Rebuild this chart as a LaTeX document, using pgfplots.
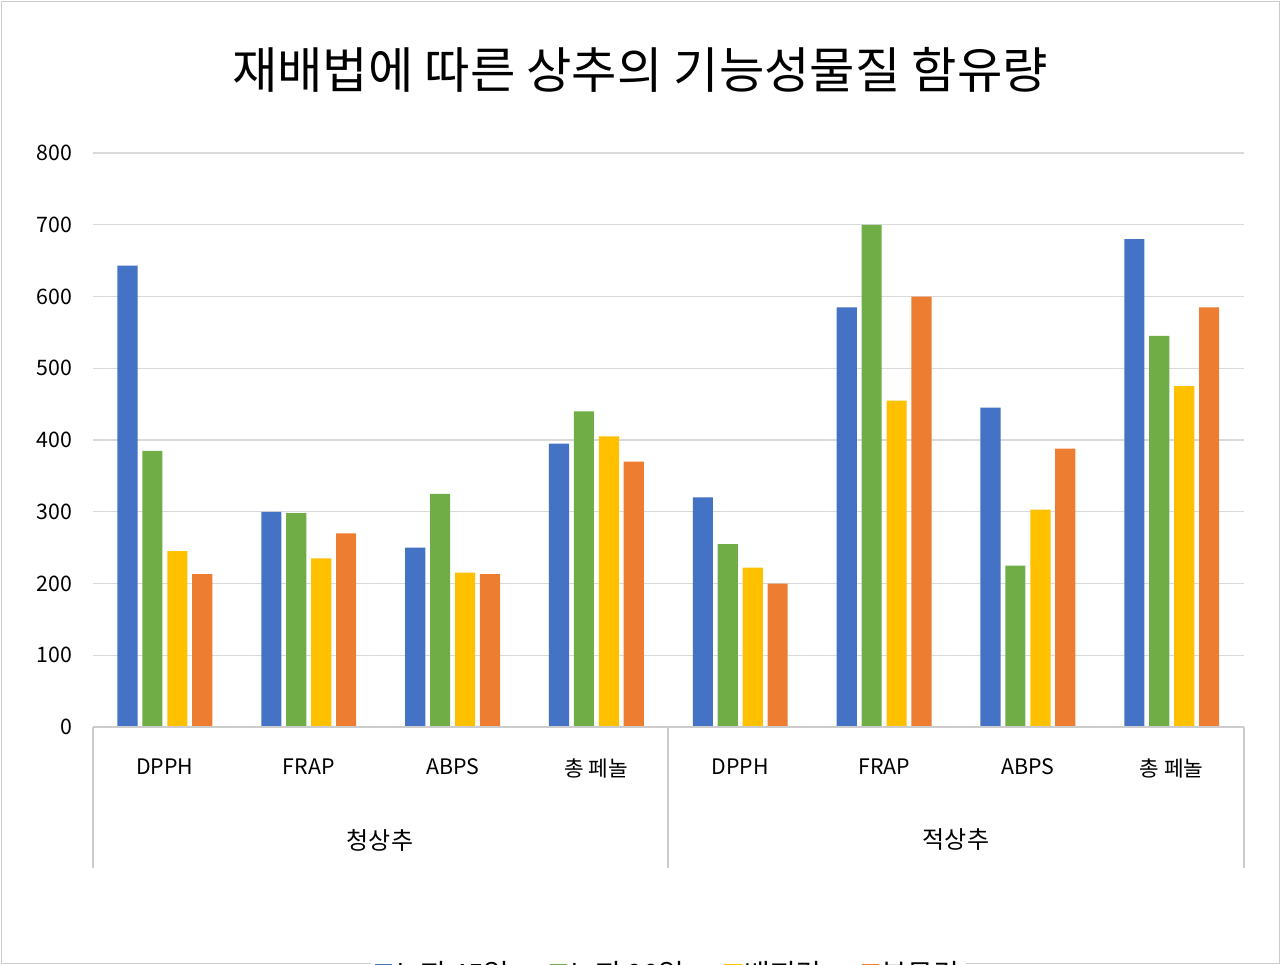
\documentclass[border=0pt]{standalone}
\usepackage{pgfplots}
\pgfplotsset{compat=1.18}
\usepackage{fontspec}
\setmainfont{Noto Sans CJK KR}
\definecolor{cb}{HTML}{4472C4}
\definecolor{cg}{HTML}{70AD47}
\definecolor{cy}{HTML}{FFC000}
\definecolor{co}{HTML}{ED7D31}
\begin{document}
\begin{tikzpicture}
\path[use as bounding box] (0,0) rectangle (960pt,723pt);
\draw[gray!40] (0.75pt,0.75pt) rectangle (959.25pt,722.25pt);
\node[font=\fontsize{37}{40}\selectfont] at (480pt,670.5pt) {재배법에 따른 상추의 기능성물질 함유량};
\begin{axis}[
  at={(69.75pt,177.75pt)}, anchor=south west, scale only axis,
  width=863pt, height=430.5pt,
  xmin=-0.5, xmax=7.5, ymin=0, ymax=800, ytick={0,100,...,800},
  axis line style={draw=none},
  ymajorgrids, grid style={gray!30, line width=0.8pt},
  tick style={draw=none},
  xtick={0,...,7}, xticklabels={DPPH,FRAP,ABPS,총 페놀,DPPH,FRAP,ABPS,총 페놀},
  xticklabel style={font=\fontsize{16}{18}\selectfont, anchor=north, yshift=-16pt},
  yticklabel style={font=\fontsize{16}{18}\selectfont, xshift=-12pt},
  /pgf/number format/assume math mode=true,
  ybar, bar width=0.14, clip=false,
  legend style={at={(0.5,-0.43)}, anchor=center, draw=none, legend columns=4,
    font=\fontsize{21}{23}\selectfont, /tikz/every even column/.style={column sep=28pt}},
  legend image code/.code={\fill[#1] (0pt,-6pt) rectangle (13pt,7pt);},
]
\addplot[fill=cb, draw=none, bar shift=-0.26] coordinates {(0,643)(1,300)(2,250)(3,395)(4,320)(5,585)(6,445)(7,680)};
\addplot[fill=cg, draw=none, bar shift=-0.087] coordinates {(0,385)(1,298)(2,325)(3,440)(4,255)(5,700)(6,225)(7,545)};
\addplot[fill=cy, draw=none, bar shift=0.087] coordinates {(0,245)(1,235)(2,215)(3,405)(4,222)(5,455)(6,303)(7,475)};
\addplot[fill=co, draw=none, bar shift=0.26] coordinates {(0,213)(1,270)(2,213)(3,370)(4,200)(5,600)(6,388)(7,585)};
\legend{노지 45일,노지 90일,배지경,분무경}
\end{axis}
\draw[gray!40, line width=0.8pt] (69.75pt,177.75pt) -- (933pt,177.75pt);
\foreach \x in {69.75,501,933} \draw[gray!40, line width=0.8pt] (\x pt,177.75pt) -- (\x pt,72pt);
\node[font=\fontsize{18}{20}\selectfont] at (285pt,93pt) {청상추};
\node[font=\fontsize{18}{20}\selectfont] at (717pt,93pt) {적상추};
\end{tikzpicture}
\end{document}
